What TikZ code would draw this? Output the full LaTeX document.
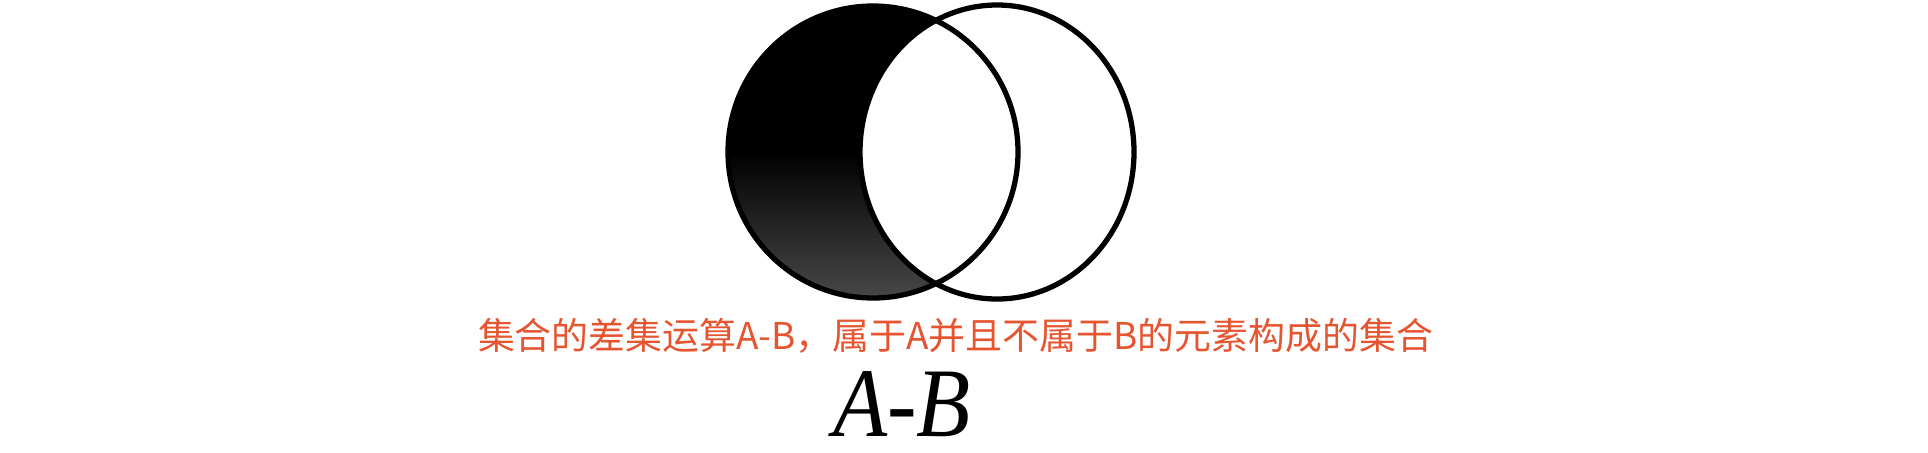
\documentclass[tikz,border=0pt]{standalone}
\usepackage{fontspec}
\setmainfont{Liberation Serif}
\newfontfamily\cjk{Noto Sans CJK SC}
\definecolor{notered}{RGB}{231,84,48}
\begin{document}
\begin{tikzpicture}
	\useasboundingbox (0,0) rectangle (19.28,4.52);
	
	\shade[top color=black,bottom color=black!72,middle color=black] (8.73,3.00) ellipse (1.45 and 1.46);
	\draw[line width=1.5pt,fill=white] (9.97,3.00) ellipse (1.37 and 1.47);
	\draw[line width=1.5pt] (8.73,3.00) ellipse (1.45 and 1.46);
	
	\node[text=notered,font=\cjk\fontsize{10.5pt}{12pt}\selectfont] (caption) at (9.555,1.16) {集合的差集运算A-B，属于A并且不属于B的元素构成的集合};
	\node[font=\fontsize{28pt}{30pt}\selectfont\itshape,inner sep=0pt,xscale=0.9] (label) at (9.02,0.48) {A-B};
\end{tikzpicture}
\end{document}
